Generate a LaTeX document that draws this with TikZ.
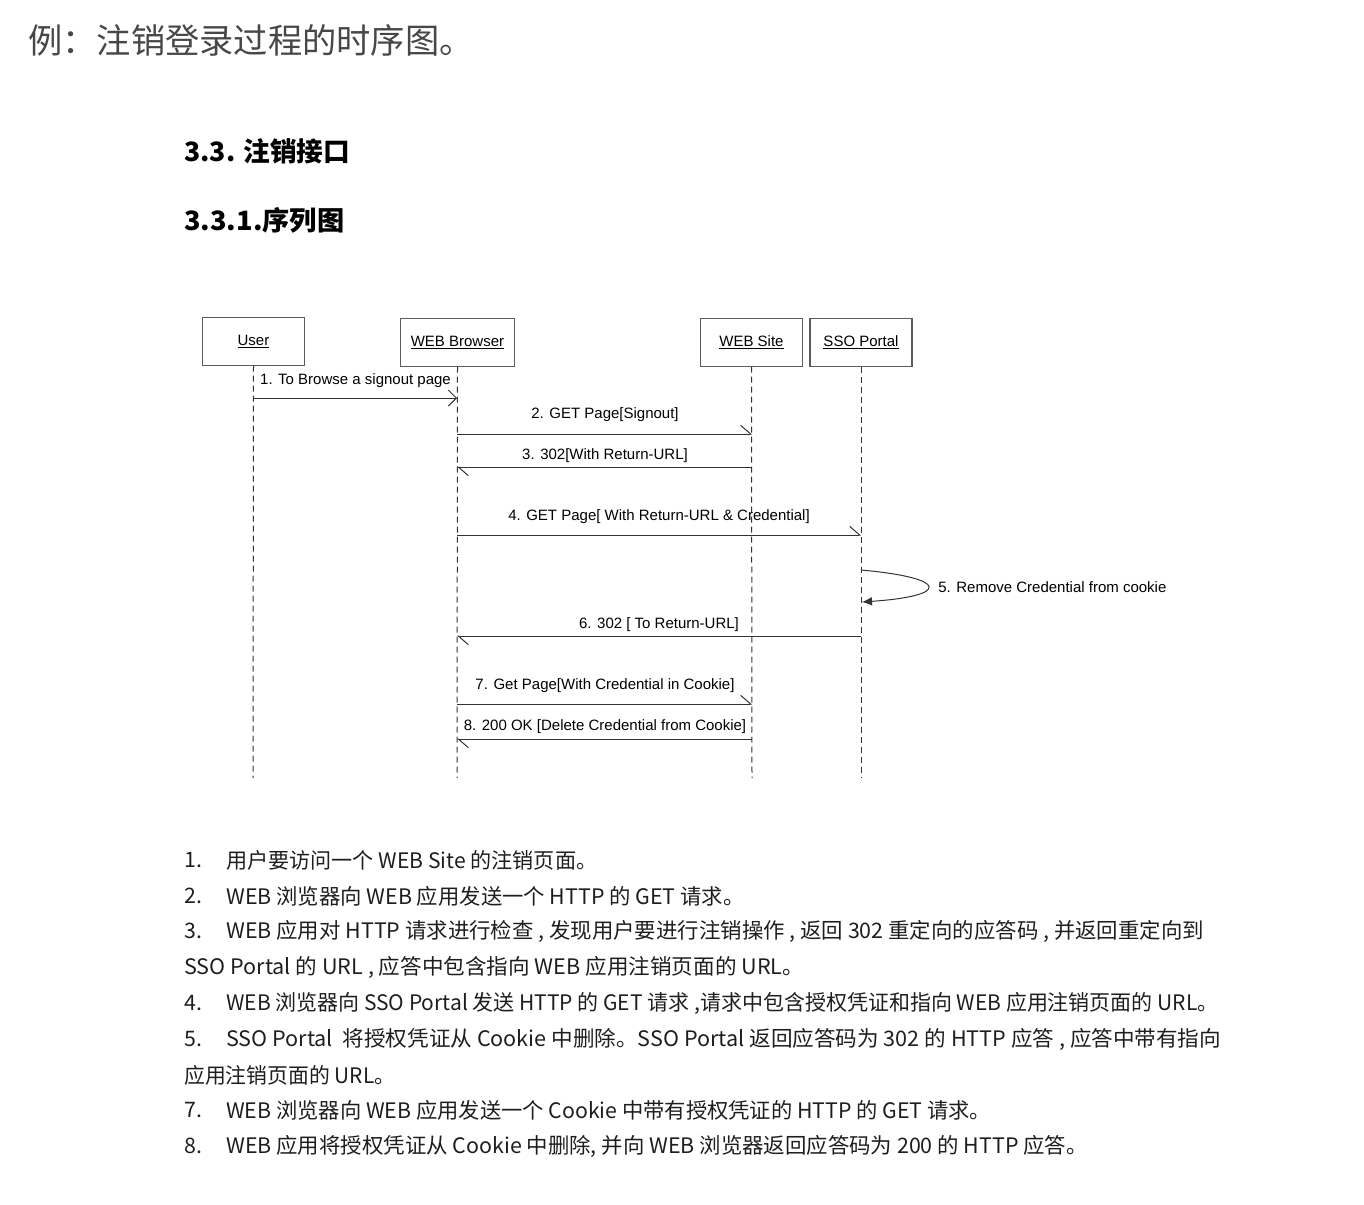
\documentclass[tikz,border=0pt]{standalone}
\usepackage{fontspec}
\usepackage{graphicx}
\setmainfont{Liberation Sans}
\newfontfamily\cjk{Noto Sans CJK SC}
\usetikzlibrary{arrows.meta}
\definecolor{ln}{HTML}{333333}
\definecolor{tt}{HTML}{1E1E1E}
\tikzset{
  actor/.style={draw=ln!80, line width=0.8pt, minimum height=35.5pt, font=\fontsize{11.25}{13}\selectfont, inner sep=0pt},
  life/.style={draw=ln, line width=0.75pt, dash pattern=on 4.5pt off 3pt},
  msg/.style={draw=ln, line width=0.75pt, -{Straight Barb[left,length=7.5pt,width=13pt,line width=0.75pt]}},
  msgfull/.style={draw=ln, line width=0.75pt, -{Straight Barb[length=6pt,width=12pt,line width=0.75pt]}},
  lbl/.style={font=\fontsize{11.25}{13}\selectfont, text=black, inner sep=0pt},
  li/.style={anchor=west, inner sep=0pt, font=\cjk\fontsize{16}{19}\selectfont, text=tt},
}
\newcommand{\sx}[2]{\scalebox{#1}[1]{#2}}
\begin{document}
\begin{tikzpicture}[x=0.75pt,y=-0.75pt]
\useasboundingbox (0,0) rectangle (1364,1204);
% title
\node[anchor=west, inner sep=0pt, font=\cjk\fontsize{25.7}{30}\selectfont, text=ln!90] (title) at (28,40) {例：注销登录过程的时序图。};
\node[anchor=west, inner sep=0pt, font=\cjk\bfseries\fontsize{20}{24}\selectfont] (h1) at (184,151) {3.3. 注销接口};
\node[anchor=west, inner sep=0pt, font=\cjk\bfseries\fontsize{20}{24}\selectfont] (h2) at (184,220) {\sx{1.02}{3.3.1.序列图}};
% actors
\node[actor, minimum width=76pt] (user) at (253.5,341.5) {\underline{User}};
\node[actor, minimum width=85pt] (brow) at (457.5,342.5) {\underline{WEB Browser}};
\node[actor, minimum width=76pt] (site) at (751.5,342.5) {\underline{WEB Site}};
\node[actor, minimum width=76.5pt] (sso) at (861,342.5) {\underline{SSO Portal}};
% lifeline ends
\coordinate (userE) at (253,778);
\coordinate (browE) at (457,778);
\coordinate (siteE) at (752,778);
\coordinate (ssoE) at (861,778);
\draw[life] (user.south) -- (userE);
\draw[life] (brow.south) -- (browE);
\draw[life] (site.south) -- (siteE);
\draw[life] (sso.south) -- (ssoE);
% message points
\coordinate (u1) at (253,398); \coordinate (b1) at (457,398);
\coordinate (b2) at (457,434); \coordinate (s2) at (752,434);
\coordinate (s3) at (752,467); \coordinate (b3) at (457,467);
\coordinate (b4) at (457,535); \coordinate (p4) at (861,535);
\coordinate (p5a) at (861,570); \coordinate (p5b) at (862,602);
\coordinate (p6) at (861,636); \coordinate (b6) at (457,636);
\coordinate (b7) at (457,704); \coordinate (s7) at (752,704);
\coordinate (s8) at (752,739); \coordinate (b8) at (457,739);
\draw[msgfull] (u1) -- (b1);
\draw[msg] (b2) -- (s2);
\draw[msg] (s3) -- (b3);
\draw[msg] (b4) -- (p4);
\draw[draw=ln, line width=0.75pt, -{Latex[length=7.5pt,width=6.5pt]}] (p5a) .. controls (950,578) and (950,596) .. (p5b);
\draw[msg] (p6) -- (b6);
\draw[msg] (b7) -- (s7);
\draw[msg] (s8) -- (b8);
% labels
\node[lbl] (l1) at (355.5,380.5) {1. To Browse a signout page};
\node[lbl] (l2) at (605,414.5) {2. GET Page[Signout]};
\node[lbl] (l3) at (605,455.5) {3. 302[With Return-URL]};
\node[lbl] (l4) at (659,516.5) {4. GET Page[ With Return-URL \& Credential]};
\node[lbl, anchor=west] (l5) at (938,587) {5. Remove Credential from cookie};
\node[lbl] (l6) at (659,624.5) {6. 302 [ To Return-URL]};
\node[lbl] (l7) at (605,685.5) {7. Get Page[With Credential in Cookie]};
\node[lbl] (l8) at (605,726.5) {8. 200 OK [Delete Credential from Cookie]};
% list
\node[li] (n1) at (184,860) {1.};
\node[li] (t1) at (226,860) {\sx{0.989}{用户要访问一个 WEB Site 的注销页面。}};
\node[li] (n2) at (184,896) {2.};
\node[li] (t2) at (226,896) {\sx{1.002}{WEB 浏览器向 WEB 应用发送一个 HTTP 的 GET 请求。}};
\node[li] (n3) at (184,931) {3.};
\node[li] (t3) at (226,931) {\sx{1.004}{WEB 应用对 HTTP 请求进行检查 , 发现用户要进行注销操作 , 返回 302 重定向的应答码 , 并返回重定向到}};
\node[li] (t3b) at (184,967) {\sx{1.012}{SSO Portal 的 URL , 应答中包含指向 WEB 应用注销页面的 URL。}};
\node[li] (n4) at (184,1003) {4.};
\node[li] (t4) at (226,1003) {\sx{0.984}{WEB 浏览器向 SSO Portal 发送 HTTP 的 GET 请求 ,请求中包含授权凭证和指向 WEB 应用注销页面的 URL。}};
\node[li] (n5) at (184,1039) {5.};
\node[li] (t5) at (226,1039) {\sx{1.012}{SSO Portal\ \ 将授权凭证从 Cookie 中删除。SSO Portal 返回应答码为 302 的 HTTP 应答 , 应答中带有指向}};
\node[li] (t5b) at (184,1075) {\sx{0.977}{应用注销页面的 URL。}};
\node[li] (n7) at (184,1110) {7.};
\node[li] (t7) at (226,1110) {\sx{0.998}{WEB 浏览器向 WEB 应用发送一个 Cookie 中带有授权凭证的 HTTP 的 GET 请求。}};
\node[li] (n8) at (184,1146) {8.};
\node[li] (t8) at (226,1146) {\sx{1.004}{WEB 应用将授权凭证从 Cookie 中删除, 并向 WEB 浏览器返回应答码为 200 的 HTTP 应答。}};
\end{tikzpicture}
\end{document}
